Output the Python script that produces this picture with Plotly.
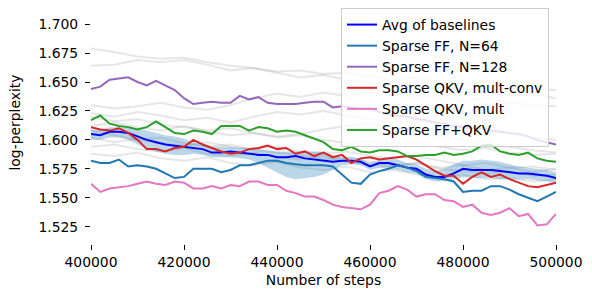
import plotly.graph_objects as go

# ---------------- data ----------------
steps = [400000 + 2000 * i for i in range(51)]
gray_steps = [400000 + 5000 * i for i in range(21)]

avg_baselines = [1.605, 1.604, 1.607, 1.607, 1.606, 1.603, 1.600, 1.598, 1.596, 1.595,
                 1.594, 1.593, 1.592, 1.589, 1.589, 1.590, 1.589, 1.588, 1.587, 1.587,
                 1.585, 1.585, 1.586, 1.584, 1.583, 1.582, 1.581, 1.582, 1.582, 1.581,
                 1.577, 1.580, 1.580, 1.578, 1.576, 1.575, 1.570, 1.568, 1.568, 1.571,
                 1.575, 1.574, 1.574, 1.574, 1.573, 1.572, 1.571, 1.571, 1.570, 1.569,
                 1.567]
band_lo = [1.600, 1.600, 1.602, 1.602, 1.600, 1.596, 1.592, 1.590, 1.588, 1.587,
           1.587, 1.588, 1.587, 1.585, 1.585, 1.585, 1.584, 1.583, 1.580, 1.576,
           1.572, 1.568, 1.566, 1.567, 1.568, 1.570, 1.574, 1.578, 1.579, 1.578,
           1.574, 1.576, 1.575, 1.574, 1.572, 1.571, 1.566, 1.564, 1.564, 1.566,
           1.568, 1.567, 1.567, 1.567, 1.566, 1.566, 1.566, 1.566, 1.565, 1.564,
           1.563]
band_hi = [1.609, 1.609, 1.611, 1.611, 1.611, 1.610, 1.608, 1.606, 1.604, 1.603,
           1.601, 1.598, 1.597, 1.594, 1.594, 1.594, 1.593, 1.593, 1.592, 1.591,
           1.590, 1.590, 1.590, 1.590, 1.590, 1.590, 1.587, 1.585, 1.585, 1.584,
           1.580, 1.583, 1.584, 1.583, 1.580, 1.579, 1.575, 1.573, 1.575, 1.579,
           1.582, 1.582, 1.583, 1.582, 1.581, 1.579, 1.577, 1.576, 1.575, 1.574,
           1.572]
ff_64 = [1.582, 1.580, 1.580, 1.583, 1.577, 1.578, 1.577, 1.575, 1.571, 1.567,
         1.568, 1.575, 1.575, 1.575, 1.572, 1.574, 1.578, 1.578, 1.580, 1.582,
         1.582, 1.580, 1.579, 1.578, 1.578, 1.578, 1.577, 1.570, 1.563, 1.562,
         1.570, 1.573, 1.575, 1.578, 1.576, 1.573, 1.568, 1.567, 1.566, 1.564,
         1.555, 1.556, 1.556, 1.560, 1.560, 1.557, 1.553, 1.550, 1.547, 1.551,
         1.555]
ff_128 = [1.644, 1.646, 1.652, 1.653, 1.654, 1.650, 1.647, 1.651, 1.647, 1.643,
          1.636, 1.631, 1.632, 1.633, 1.632, 1.632, 1.638, 1.635, 1.637, 1.632,
          1.631, 1.631, 1.631, 1.632, 1.633, 1.633, 1.628, 1.629, 1.628, 1.627,
          1.627, 1.624, 1.622, 1.621, 1.620, 1.618, 1.617, 1.615, 1.614, 1.612,
          1.611, 1.610, 1.610, 1.608, 1.607, 1.606, 1.605, 1.603, 1.600, 1.598,
          1.596]
qkv_mult_conv = [1.611, 1.609, 1.608, 1.610, 1.606, 1.600, 1.592, 1.592, 1.590, 1.593,
                 1.594, 1.600, 1.596, 1.593, 1.590, 1.588, 1.589, 1.592, 1.593, 1.595,
                 1.592, 1.593, 1.588, 1.590, 1.586, 1.589, 1.585, 1.587, 1.580, 1.584,
                 1.585, 1.583, 1.584, 1.585, 1.586, 1.583, 1.578, 1.573, 1.569, 1.569,
                 1.562, 1.568, 1.572, 1.568, 1.570, 1.566, 1.563, 1.560, 1.559, 1.561,
                 1.563]
qkv_mult = [1.562, 1.555, 1.558, 1.559, 1.560, 1.562, 1.564, 1.562, 1.561, 1.564,
            1.563, 1.558, 1.558, 1.560, 1.558, 1.561, 1.560, 1.564, 1.564, 1.561,
            1.561, 1.556, 1.554, 1.551, 1.551, 1.548, 1.544, 1.542, 1.541, 1.540,
            1.544, 1.554, 1.556, 1.560, 1.557, 1.551, 1.553, 1.553, 1.548, 1.547,
            1.542, 1.544, 1.537, 1.535, 1.537, 1.541, 1.534, 1.536, 1.526, 1.527,
            1.536]
ff_qkv = [1.617, 1.621, 1.614, 1.612, 1.611, 1.609, 1.611, 1.616, 1.611, 1.606,
          1.605, 1.608, 1.607, 1.605, 1.612, 1.612, 1.612, 1.608, 1.611, 1.610,
          1.607, 1.608, 1.607, 1.604, 1.601, 1.598, 1.592, 1.591, 1.594, 1.590,
          1.589, 1.591, 1.591, 1.590, 1.586, 1.586, 1.587, 1.587, 1.589, 1.587,
          1.588, 1.590, 1.595, 1.596, 1.590, 1.588, 1.587, 1.589, 1.584, 1.582,
          1.581]

baseline_runs = [
    [1.679, 1.676, 1.672, 1.670, 1.671, 1.667, 1.664, 1.662, 1.659, 1.660, 1.657,
     1.658, 1.655, 1.652, 1.654, 1.650, 1.648, 1.650, 1.646, 1.644, 1.643],
    [1.664, 1.665, 1.669, 1.667, 1.669, 1.665, 1.660, 1.662, 1.658, 1.654, 1.656,
     1.652, 1.648, 1.650, 1.646, 1.643, 1.645, 1.641, 1.638, 1.640, 1.636],
    [1.630, 1.627, 1.629, 1.632, 1.628, 1.626, 1.630, 1.636, 1.640, 1.637, 1.641,
     1.638, 1.642, 1.640, 1.636, 1.638, 1.634, 1.636, 1.632, 1.630, 1.629],
    [1.623, 1.620, 1.624, 1.621, 1.617, 1.619, 1.615, 1.620, 1.624, 1.622, 1.625,
     1.621, 1.618, 1.615, 1.617, 1.612, 1.608, 1.610, 1.605, 1.602, 1.600],
    [1.612, 1.615, 1.611, 1.608, 1.612, 1.607, 1.604, 1.606, 1.602, 1.604, 1.600,
     1.597, 1.599, 1.596, 1.598, 1.594, 1.591, 1.593, 1.589, 1.587, 1.588],
    [1.602, 1.598, 1.601, 1.597, 1.595, 1.598, 1.594, 1.592, 1.594, 1.590, 1.588,
     1.590, 1.586, 1.584, 1.586, 1.582, 1.578, 1.580, 1.576, 1.577, 1.574],
    [1.594, 1.596, 1.592, 1.590, 1.593, 1.588, 1.586, 1.589, 1.585, 1.583, 1.586,
     1.581, 1.579, 1.577, 1.580, 1.575, 1.573, 1.571, 1.573, 1.569, 1.570],
    [1.588, 1.586, 1.589, 1.584, 1.582, 1.585, 1.580, 1.578, 1.581, 1.576, 1.574,
     1.577, 1.572, 1.574, 1.570, 1.568, 1.570, 1.566, 1.567, 1.564, 1.566],
    [1.608, 1.604, 1.600, 1.602, 1.597, 1.594, 1.596, 1.591, 1.589, 1.587, 1.583,
     1.585, 1.581, 1.578, 1.580, 1.576, 1.578, 1.574, 1.576, 1.572, 1.575],
    [1.620, 1.616, 1.618, 1.613, 1.611, 1.608, 1.610, 1.606, 1.603, 1.605, 1.609,
     1.612, 1.614, 1.611, 1.608, 1.603, 1.600, 1.596, 1.594, 1.591, 1.589],
]

x_ticks = [400000, 420000, 440000, 460000, 480000, 500000]
y_ticks = [1.525, 1.550, 1.575, 1.600, 1.625, 1.650, 1.675, 1.700]

series = [
    ("Avg of baselines", avg_baselines, "#0000ff"),
    ("Sparse FF, N=64", ff_64, "#1f77b4"),
    ("Sparse FF, N=128", ff_128, "#9467bd"),
    ("Sparse QKV, mult-conv", qkv_mult_conv, "#d62728"),
    ("Sparse QKV, mult", qkv_mult, "#e377c2"),
    ("Sparse FF+QKV", ff_qkv, "#2ca02c"),
]

FONT = "DejaVu Sans"
FS = 13.9

fig = go.Figure()
for run in baseline_runs:
    fig.add_trace(go.Scatter(x=gray_steps, y=run, mode="lines",
                             line=dict(color="rgba(128,128,128,0.2)", width=2),
                             showlegend=False, hoverinfo="skip"))

fig.add_trace(go.Scatter(x=steps, y=band_lo, mode="lines", line=dict(width=0),
                         showlegend=False, hoverinfo="skip"))
fig.add_trace(go.Scatter(x=steps, y=band_hi, mode="lines", line=dict(width=0),
                         fill="tonexty", fillcolor="rgba(31,119,180,0.3)",
                         showlegend=False, hoverinfo="skip"))

for i, (name, vals, color) in enumerate(series):
    fig.add_trace(go.Scatter(x=steps, y=vals, mode="lines", name=name,
                             line=dict(color=color, width=2)))

fig.update_layout(
    width=592, height=297,
    margin=dict(l=91, r=36, t=1, b=53),
    paper_bgcolor="white", plot_bgcolor="white",
    font=dict(family=FONT, size=FS, color="black"),
    showlegend=True,
    legend=dict(x=0.985, y=0.971, xanchor="right", yanchor="top",
                traceorder="normal",
                bgcolor="rgba(255,255,255,0.8)", bordercolor="#cccccc",
                borderwidth=1, font=dict(family=FONT, size=FS),
                itemwidth=30),
)
fig.update_xaxes(range=[400000, 500000], tickvals=x_ticks,
                 ticktext=[str(v) for v in x_ticks],
                 showgrid=False, zeroline=False, showline=False,
                 ticks="outside", ticklen=5, tickwidth=1, tickcolor="black",
                 title=dict(text="Number of steps", standoff=6,
                            font=dict(family=FONT, size=FS)))
fig.update_yaxes(range=[1.51, 1.72], tickvals=y_ticks,
                 ticktext=[f"{v:.3f}" for v in y_ticks],
                 showgrid=False, zeroline=False, showline=False,
                 ticks="outside", ticklen=5, tickwidth=1, tickcolor="black",
                 ticklabelstandoff=4,
                 title=dict(text="log-perplexity", standoff=14,
                            font=dict(family=FONT, size=FS)))

fig.write_html("out.html", config={"displayModeBar": False},
               post_script="document.body.style.margin='0';document.body.style.padding='0';")
